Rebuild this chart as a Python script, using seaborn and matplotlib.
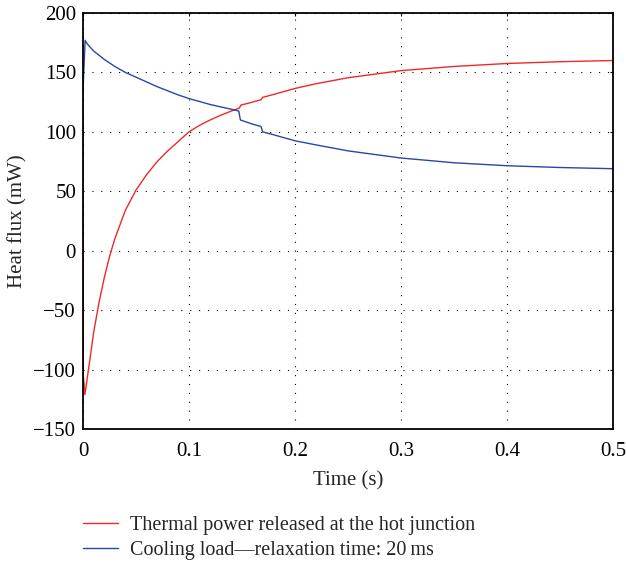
import matplotlib
matplotlib.use("Agg")
import matplotlib.pyplot as plt
import pandas as pd
import seaborn as sns

# values
red_t = [0.0, 0.0003, 0.0018, 0.005, 0.01, 0.015, 0.02, 0.025, 0.03, 0.04, 0.05,
         0.06, 0.07, 0.08, 0.09, 0.1, 0.11, 0.12, 0.13, 0.14, 0.1475, 0.149,
         0.16, 0.168, 0.1695, 0.18, 0.2, 0.22, 0.25, 0.3, 0.35, 0.4, 0.45, 0.5]
red_q = [137, -105, -121, -101, -69, -44, -23, -5, 10, 34, 51,
         64, 75, 84, 92, 100, 105.5, 110, 114, 117.5, 120, 122.5,
         125, 127, 129, 131.5, 136.5, 140.5, 145.5, 151.5, 155, 157.5, 159, 160]

blue_t = [0.0, 0.002, 0.004, 0.007, 0.01, 0.015, 0.02, 0.03, 0.04, 0.05, 0.06,
          0.07, 0.08, 0.09, 0.1, 0.11, 0.12, 0.13, 0.14, 0.147, 0.1485, 0.16,
          0.168, 0.1695, 0.18, 0.2, 0.22, 0.25, 0.3, 0.35, 0.4, 0.45, 0.5]
blue_q = [135, 177, 174, 171, 168, 164.5, 161, 155, 150, 146, 142,
          138, 134.5, 131, 128, 125.5, 123, 121, 119, 117.5, 110, 106.5,
          104.5, 100, 97.5, 92.5, 89, 84, 78, 74, 71.5, 70, 69]

labels = ["Thermal power released at the hot junction",
          "Cooling load\u2014relaxation time: 20\u2009ms"]

df = pd.concat([
    pd.DataFrame({"t": red_t, "q": red_q, "series": labels[0]}),
    pd.DataFrame({"t": blue_t, "q": blue_q, "series": labels[1]}),
])

sns.set_style("white")
plt.rcParams["font.family"] = ["Liberation Serif", "DejaVu Serif"]
plt.rcParams["font.size"] = 15

fig = plt.figure(figsize=(6.26, 5.69), dpi=100)
ax = fig.add_axes([0.1326, 0.246, 0.8464, 0.7312])
sns.lineplot(data=df, x="t", y="q", hue="series", sort=False,
             palette=["#f02828", "#2a46a6"], linewidth=1.0, ax=ax)

ax.set_xlim(0, 0.5)
ax.set_ylim(-150, 200)
ax.set_xticks([0, 0.1, 0.2, 0.3, 0.4, 0.5])
ax.set_xticklabels(["0", "0.1", "0.2", "0.3", "0.4", "0.5"])
ax.set_yticks(range(-150, 201, 50))
ax.set_yticklabels([str(v).replace("-", "\u2212") for v in range(-150, 201, 50)])
ax.grid(True, color="black", linestyle=(0, (1, 7)), linewidth=0.8)
ax.tick_params(direction="in", length=2.5, width=0.8, top=True, right=True,
               colors="black", labelsize=15, pad=5)
ax.tick_params(axis="x", pad=9)
for s in ax.spines.values():
    s.set_color("black")
    s.set_linewidth(1.3)
ax.set_xlabel("Time (s)", fontsize=15, labelpad=8)
ax.set_ylabel("Heat flux (mW)", fontsize=15, labelpad=4)

ax.legend_.remove()
h, l = ax.get_legend_handles_labels()
fig.legend(h, l, loc="upper left", bbox_to_anchor=(0.132, 0.094), frameon=False,
           fontsize=14.5, handlelength=1.75, handletextpad=0.6, labelspacing=0.3,
           borderaxespad=0, borderpad=0)

fig.savefig("out.png", dpi=100)
